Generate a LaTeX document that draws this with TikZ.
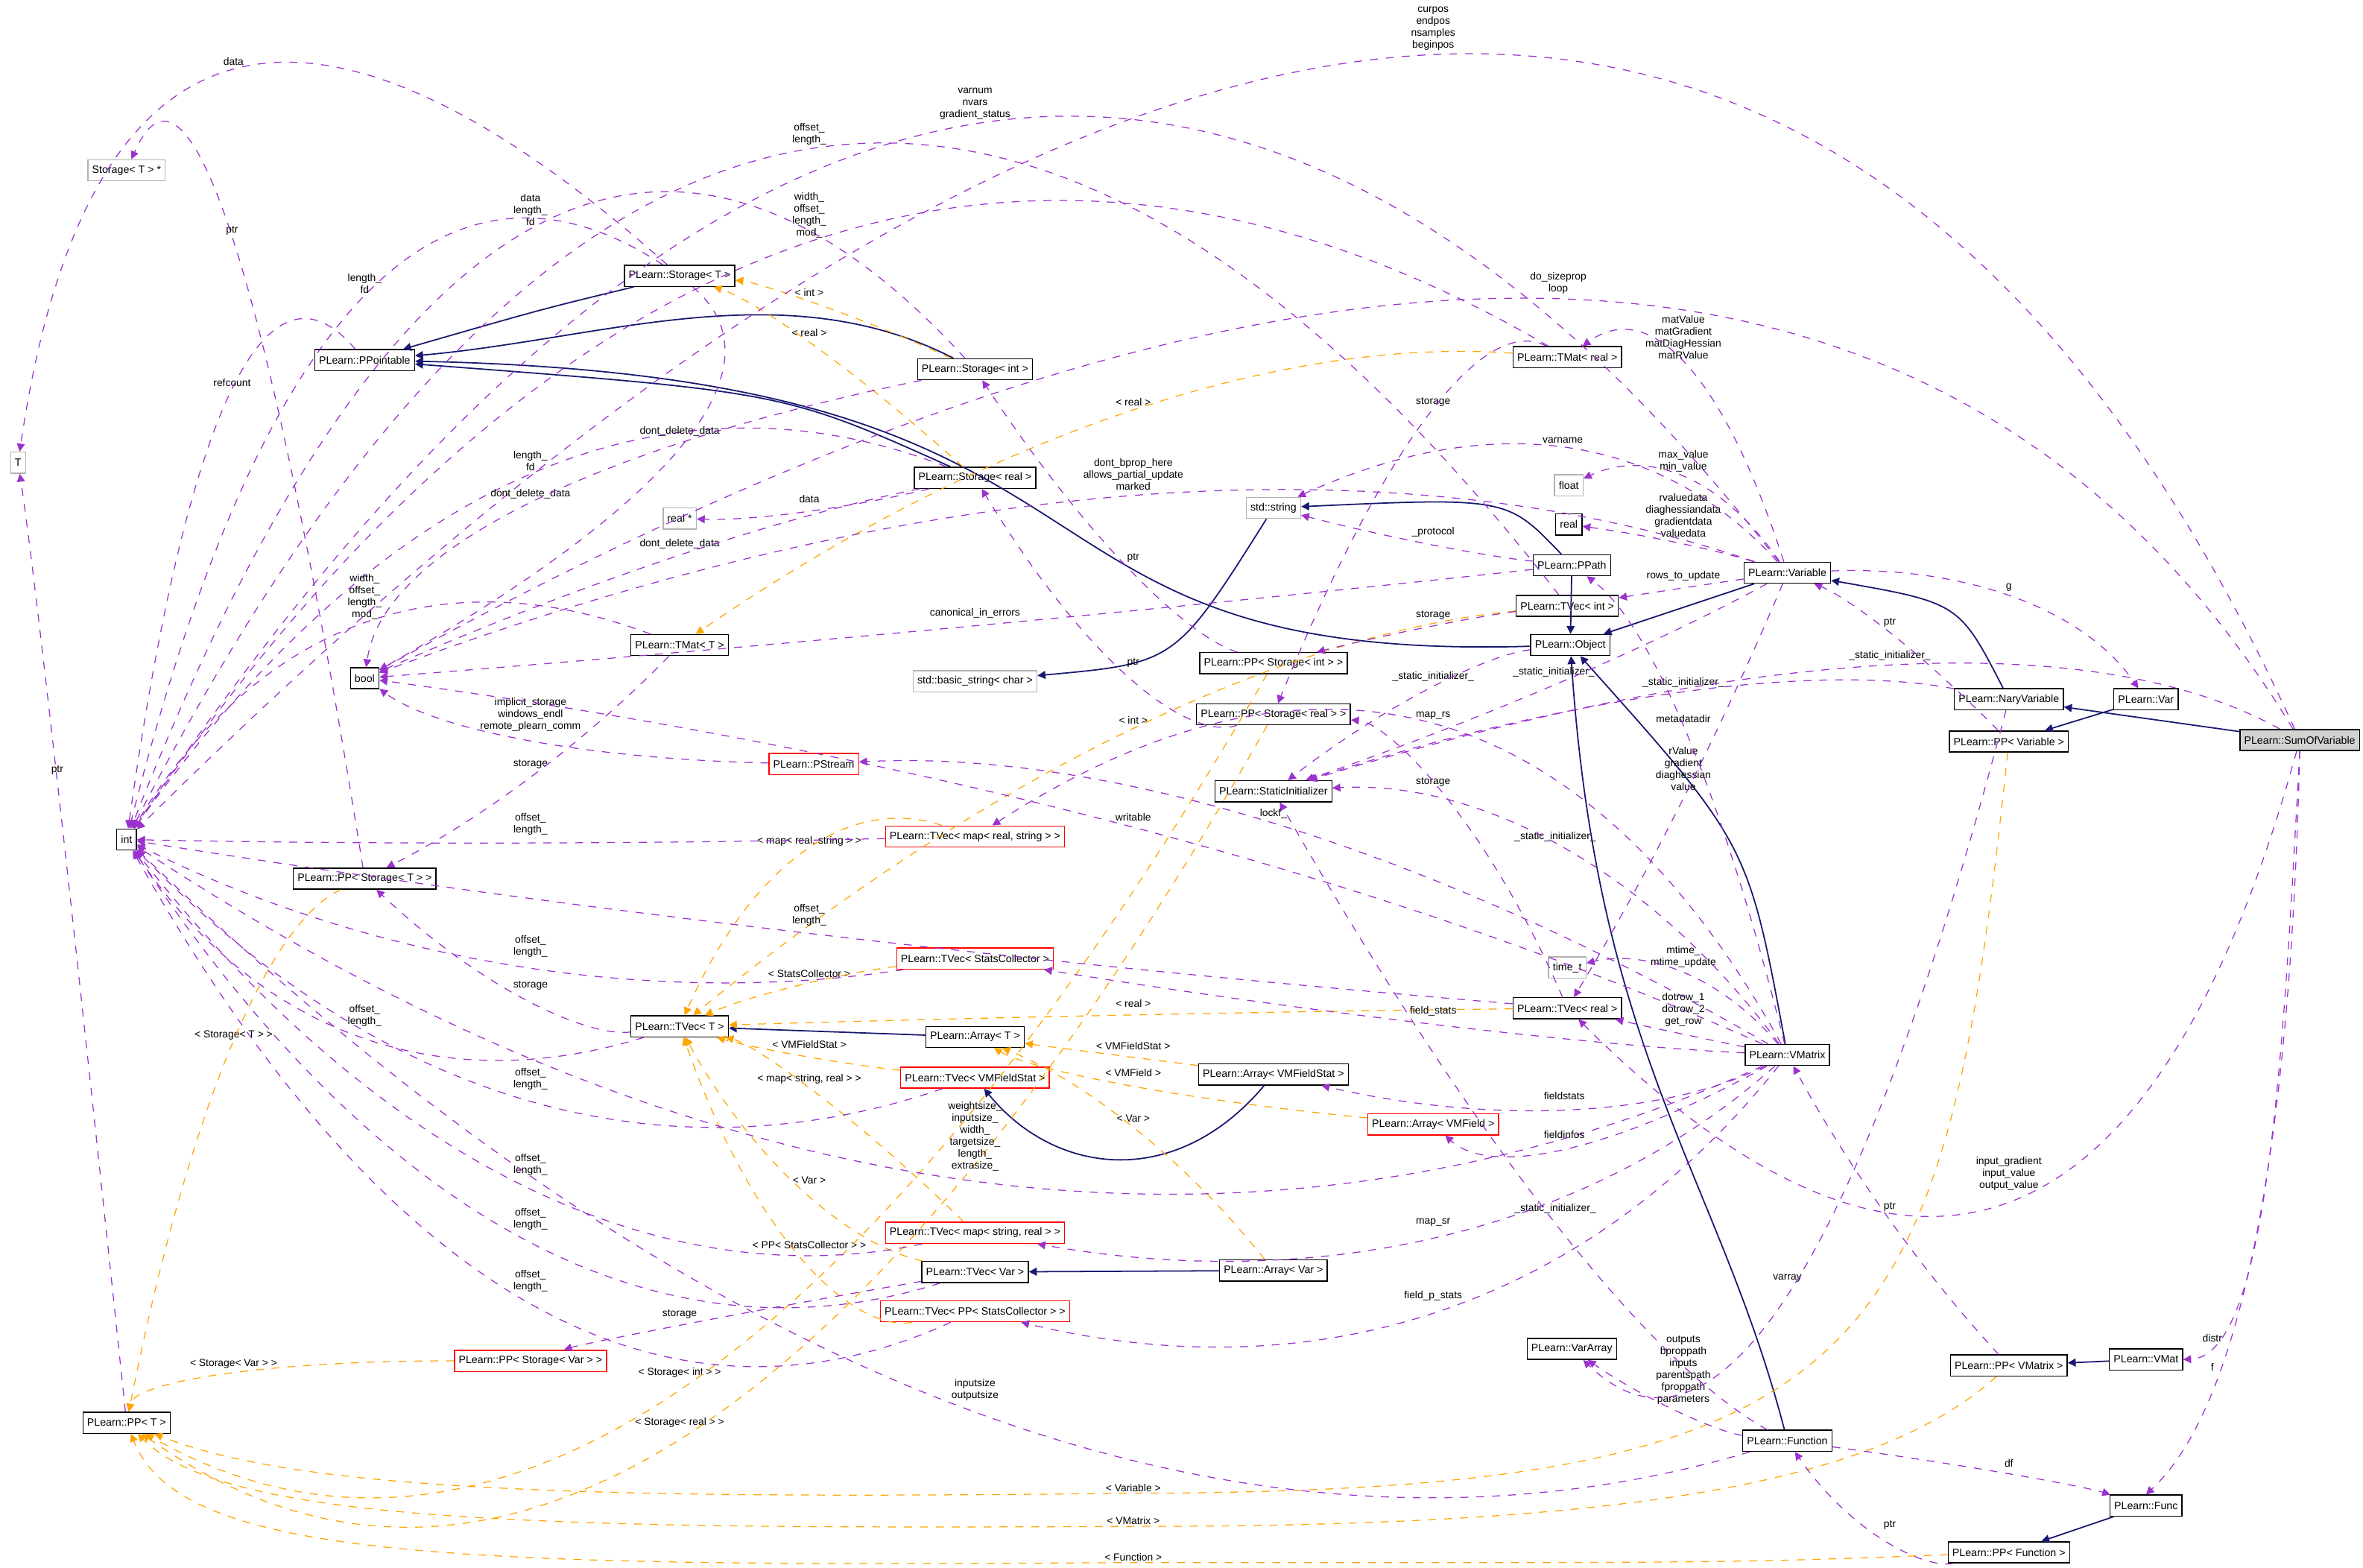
\documentclass[tikz,border=0pt]{standalone}
\usepackage{fontspec}
\setmainfont{Liberation Sans}
\usetikzlibrary{positioning,arrows.meta,calc}
\definecolor{MemPurple}{RGB}{154,50,205}
\definecolor{BaseBlue}{RGB}{25,25,112}
\definecolor{TmplOrange}{RGB}{255,165,0}
\tikzset{
  cls/.style={draw=black, fill=white, inner sep=1.6pt, minimum height=0.28cm, font=\fontsize{4}{4.6}\selectfont},
  grycls/.style={cls, draw=gray!60},
  redcls/.style={cls, draw=red},
  rootcls/.style={cls, fill=gray!35},
  lbl/.style={font=\fontsize{3.9}{4.5}\selectfont, align=center, inner sep=0.5pt},
  mem/.style={-{Triangle[length=3pt,width=3pt]}, MemPurple, dashed, line width=0.35pt},
  tmpl/.style={-{Triangle[length=3pt,width=3pt]}, TmplOrange, dashed, line width=0.35pt},
  inh/.style={-{Triangle[length=3pt,width=3pt]}, BaseBlue, line width=0.5pt},
}
% edge passing just under its label
\newcommand\rel[5][mem]{\node[lbl] (lb) at (#4) {#5};
  \draw[#1] (#2) .. controls ($1.3333*(lb.south)+(0,5)-0.3333*(#3)$)
    and ($1.3333*(lb.south)+(0,5)-0.3333*(#2)$) .. (#3);}

\begin{document}
\begin{tikzpicture}[x=0.02cm, y=-0.02cm]
  \useasboundingbox (0,0) rectangle (1568,1040);

  % Classes
  \node[grycls] (T) at (12,307) {T};
  \node[cls] (int) at (84,557) {int};
  \node[grycls] (stptr) at (84,113) {Storage< T > *};
  \node[cls] (ppoint) at (242,239) {PLearn::PPointable};
  \node[cls] (storT) at (451,183) {PLearn::Storage< T >};
  \node[cls] (storInt) at (647,245) {PLearn::Storage< int >};
  \node[cls] (storReal) at (647,317) {PLearn::Storage< real >};
  \node[cls] (tmatReal) at (1040,237) {PLearn::TMat< real >};
  \node[grycls] (realptr) at (451,344) {real *};
  \node[cls] (bool) at (242,450) {bool};
  \node[cls] (tmatT) at (451,428) {PLearn::TMat< T >};
  \node[grycls] (string) at (845,337) {std::string};
  \node[grycls] (float) at (1041,322) {float};
  \node[cls] (real) at (1041,348) {real};
  \node[cls] (ppath) at (1043,375) {PLearn::PPath};
  \node[cls] (variable) at (1186,380) {PLearn::Variable};
  \node[cls] (tvecInt) at (1040,402) {PLearn::TVec< int >};
  \node[cls] (object) at (1042,428) {PLearn::Object};
  \node[cls] (ppStorInt) at (845,440) {PLearn::PP< Storage< int > >};
  \node[grycls] (bstring) at (647,452) {std::basic\_string< char >};
  \node[cls] (ppStorReal) at (845,474) {PLearn::PP< Storage< real > >};
  \node[cls] (statinit) at (845,525) {PLearn::StaticInitializer};
  \node[redcls] (pstream) at (540,507) {PLearn::PStream};
  \node[redcls] (tvecMapRS) at (647,555) {PLearn::TVec< map< real, string > >};
  \node[cls] (ppStorT) at (242,583) {PLearn::PP< Storage< T > >};
  \node[cls] (nary) at (1333,464) {PLearn::NaryVariable};
  \node[cls] (var) at (1424,464) {PLearn::Var};
  \node[cls] (ppVariable) at (1333,492) {PLearn::PP< Variable >};
  \node[rootcls] (sumof) at (1526,491) {PLearn::SumOfVariable};
  \node[grycls] (timet) at (1040,642) {time\_t};
  \node[redcls] (tvecStats) at (647,636) {PLearn::TVec< StatsCollector >};
  \node[cls] (tvecReal) at (1040,669) {PLearn::TVec< real >};
  \node[cls] (tvecT) at (451,681) {PLearn::TVec< T >};
  \node[cls] (arrT) at (647,688) {PLearn::Array< T >};
  \node[cls] (arrFStat) at (845,713) {PLearn::Array< VMFieldStat >};
  \node[redcls] (tvecFStat) at (647,715) {PLearn::TVec< VMFieldStat >};
  \node[cls] (vmatrix) at (1186,700) {PLearn::VMatrix};
  \node[redcls] (arrField) at (951,746) {PLearn::Array< VMField >};
  \node[redcls] (tvecMapSR) at (647,818) {PLearn::TVec< map< string, real > >};
  \node[cls] (tvecVar) at (647,844) {PLearn::TVec< Var >};
  \node[cls] (arrVar) at (845,843) {PLearn::Array< Var >};
  \node[redcls] (tvecPPStats) at (647,870) {PLearn::TVec< PP< StatsCollector > >};
  \node[redcls] (ppStorVar) at (352,903) {PLearn::PP< Storage< Var > >};
  \node[cls] (vararray) at (1043,895) {PLearn::VarArray};
  \node[cls] (ppT) at (84,944) {PLearn::PP< T >};
  \node[cls] (function) at (1186,956) {PLearn::Function};
  \node[cls] (ppVMatrix) at (1333,906) {PLearn::PP< VMatrix >};
  \node[cls] (vmat) at (1424,902) {PLearn::VMat};
  \node[cls] (func) at (1424,999) {PLearn::Func};
  \node[cls] (ppFunction) at (1333,1030) {PLearn::PP< Function >};

  % Inheritance
  \draw[inh] (storT) .. controls (360,205) .. (ppoint);
  \draw[inh] (storInt) .. controls (520,180) and (400,225) .. (ppoint);
  \draw[inh] (storReal) .. controls (520,260) .. (ppoint);
  \draw[inh] (object) .. controls (640,440) and (780,250) .. (ppoint);
  \draw[inh] (ppath) .. controls (1000,330) .. (string);
  \draw[inh] (string) .. controls (780,440) .. (bstring);
  \draw[inh] (variable) -- (object);
  \draw[inh] (ppath) -- (object);
  \draw[inh] (nary) .. controls (1300,400) .. (variable);
  \draw[inh] (sumof) -- (nary);
  \draw[inh] (vmatrix) .. controls (1160,560) .. (object);
  \draw[inh] (function) .. controls (1140,780) and (1060,700) .. (object);
  \draw[inh] (arrT) -- (tvecT);
  \draw[inh] (arrFStat) .. controls (780,790) and (700,780) .. (tvecFStat);
  \draw[inh] (arrVar) -- (tvecVar);
  \draw[inh] (vmat) -- (ppVMatrix);
  \draw[inh] (var) -- (ppVariable);
  \draw[inh] (func) -- (ppFunction);

  % Template instances
  \rel[tmpl]{tmatReal}{tmatT}{752,267}{< real >}
  \rel[tmpl]{storInt}{storT}{537,194}{< int >}
  \rel[tmpl]{storReal}{storT}{537,221}{< real >}
  \rel[tmpl]{tvecInt}{tvecT}{752,478}{< int >}
  \rel[tmpl]{tvecMapRS}{tvecT}{537,558}{< map< real, string > >}
  \rel[tmpl]{tvecStats}{tvecT}{537,646}{< StatsCollector >}
  \rel[tmpl]{tvecReal}{tvecT}{752,666}{< real >}
  \rel[tmpl]{tvecFStat}{tvecT}{537,693}{< VMFieldStat >}
  \rel[tmpl]{tvecMapSR}{tvecT}{537,716}{< map< string, real > >}
  \rel[tmpl]{tvecVar}{tvecT}{537,783}{< Var >}
  \rel[tmpl]{tvecPPStats}{tvecT}{537,826}{< PP< StatsCollector > >}
  \rel[tmpl]{arrFStat}{arrT}{752,694}{< VMFieldStat >}
  \rel[tmpl]{arrField}{arrT}{752,712}{< VMField >}
  \rel[tmpl]{arrVar}{arrT}{752,742}{< Var >}
  \rel[tmpl]{ppStorT}{ppT}{155,687}{< Storage< T > >}
  \rel[tmpl]{ppStorVar}{ppT}{155,905}{< Storage< Var > >}
  \rel[tmpl]{ppStorInt}{ppT}{451,911}{< Storage< int > >}
  \rel[tmpl]{ppStorReal}{ppT}{451,944}{< Storage< real > >}
  \node[lbl] (lbVariable) at (752,987) {< Variable >};
  \node[lbl] (lbVMatrix) at (752,1009) {< VMatrix >};
  \node[lbl] (lbFunction) at (752,1033) {< Function >};
  \draw[tmpl] (ppVariable) .. controls (1290,900) and (1250,990) .. (lbVariable.south)
    .. controls (400,995) and (200,990) .. (ppT);
  \draw[tmpl] (ppVMatrix) .. controls (1250,980) and (1100,1013) .. (lbVMatrix.south)
    .. controls (350,1015) and (150,1010) .. (ppT);
  \draw[tmpl] (ppFunction) .. controls (1150,1037) .. (lbFunction.south)
    .. controls (300,1040) and (120,1035) .. (ppT);

  % Members
  \rel{storT}{T}{155,41}{data}
  \rel{ppT}{T}{38,511}{ptr}
  \rel{ppStorT}{stptr}{154,153}{ptr}
  \rel{storT}{int}{242,188}{length\_\\fd}
  \rel{storInt}{int}{352,139}{data\\length\_\\fd}
  \rel{storReal}{int}{352,306}{length\_\\fd}
  \rel{ppoint}{int}{154,254}{refcount}
  \rel{tmatReal}{int}{537,143}{width\_\\offset\_\\length\_\\mod\_}
  \rel{tmatT}{int}{242,396}{width\_\\offset\_\\length\_\\mod\_}
  \rel{variable}{int}{647,69}{varnum\\nvars\\gradient\_status}
  \rel{sumof}{int}{951,19}{curpos\\endpos\\nsamples\\beginpos}
  \rel{tvecInt}{int}{537,89}{offset\_\\length\_}
  \rel{tvecMapRS}{int}{352,547}{offset\_\\length\_}
  \rel{tvecStats}{int}{352,628}{offset\_\\length\_}
  \rel{tvecT}{int}{242,674}{offset\_\\length\_}
  \rel{tvecReal}{int}{537,607}{offset\_\\length\_}
  \rel{tvecFStat}{int}{352,716}{offset\_\\length\_}
  \rel{vmatrix}{int}{647,754}{weightsize\_\\inputsize\_\\width\_\\targetsize\_\\length\_\\extrasize\_}
  \rel{tvecMapSR}{int}{352,773}{offset\_\\length\_}
  \rel{tvecVar}{int}{352,809}{offset\_\\length\_}
  \rel{tvecPPStats}{int}{352,850}{offset\_\\length\_}
  \rel{function}{int}{647,922}{inputsize\\outputsize}
  \rel{storT}{bool}{451,286}{dont\_delete\_data}
  \rel{storInt}{bool}{352,328}{dont\_delete\_data}
  \rel{storReal}{bool}{451,361}{dont\_delete\_data}
  \rel{variable}{bool}{752,315}{dont\_bprop\_here\\allows\_partial\_update\\marked}
  \rel{ppath}{bool}{647,407}{canonical\_in\_errors}
  \rel{pstream}{bool}{352,474}{implicit\_storage\\windows\_endl\\remote\_plearn\_comm}
  \rel{vmatrix}{bool}{752,542}{writable}
  \rel{sumof}{bool}{1034,188}{do\_sizeprop\\loop}
  \rel{storReal}{realptr}{537,331}{data}
  \rel{tmatT}{ppStorT}{352,507}{storage}
  \rel{tvecT}{ppStorT}{352,654}{storage}
  \rel{tvecVar}{ppStorVar}{451,872}{storage}
  \rel{tvecInt}{ppStorInt}{951,408}{storage}
  \rel{tmatReal}{ppStorReal}{951,267}{storage}
  \rel{tvecReal}{ppStorReal}{951,519}{storage}
  \rel{ppStorInt}{storInt}{752,370}{ptr}
  \rel{ppStorReal}{storReal}{752,440}{ptr}
  \rel{ppath}{string}{951,353}{\_protocol}
  \rel{variable}{string}{1037,292}{varname}
  \rel{variable}{tmatReal}{1117,224}{matValue\\matGradient\\matDiagHessian\\matRValue}
  \rel{variable}{float}{1117,306}{max\_value\\min\_value}
  \rel{variable}{real}{1117,342}{rvaluedata\\diaghessiandata\\gradientdata\\valuedata}
  \rel{variable}{tvecInt}{1117,382}{rows\_to\_update}
  \rel{variable}{var}{1333,390}{g}
  \rel{variable}{tvecReal}{1117,510}{rValue\\gradient\\diaghessian\\value}
  \rel{object}{statinit}{951,449}{\_static\_initializer\_}
  \rel{variable}{statinit}{1031,446}{\_static\_initializer\_}
  \rel{nary}{statinit}{1117,453}{\_static\_initializer\_}
  \rel{sumof}{statinit}{1254,435}{\_static\_initializer\_}
  \rel{vmatrix}{statinit}{1032,555}{\_static\_initializer\_}
  \rel{function}{statinit}{1032,802}{\_static\_initializer\_}
  \rel{vmatrix}{ppath}{1117,477}{metadatadir}
  \rel{vmatrix}{pstream}{845,540}{lockf\_}
  \rel{vmatrix}{tvecMapRS}{951,475}{map\_rs}
  \rel{vmatrix}{timet}{1117,635}{mtime\_\\mtime\_update}
  \rel{vmatrix}{tvecReal}{1117,670}{dotrow\_1\\dotrow\_2\\get\_row}
  \rel{vmatrix}{tvecStats}{951,671}{field\_stats}
  \rel{vmatrix}{arrFStat}{1038,727}{fieldstats}
  \rel{vmatrix}{arrField}{1038,753}{fieldinfos}
  \rel{vmatrix}{tvecMapSR}{951,811}{map\_sr}
  \rel{vmatrix}{tvecPPStats}{951,860}{field\_p\_stats}
  \rel{function}{vararray}{1117,909}{outputs\\bproppath\\inputs\\parentspath\\fproppath\\parameters}
  \rel{function}{func}{1333,971}{df}
  \rel{nary}{vararray}{1186,848}{varray}
  \rel{sumof}{tvecReal}{1333,779}{input\_gradient\\input\_value\\output\_value}
  \node[lbl] (lbDistr) at (1468,888) {distr};
  \node[lbl] (lbF) at (1468,907) {f};
  \draw[mem] (sumof.south) .. controls (1515,700) and (1505,900) .. (vmat.east);
  \draw[mem] (sumof.south) .. controls (1520,750) and (1490,930) .. (func.north);
  \rel{ppVariable}{variable}{1254,413}{ptr}
  \rel{ppVMatrix}{vmatrix}{1254,801}{ptr}
  \rel{ppFunction}{function}{1254,1012}{ptr}
\end{tikzpicture}
\end{document}
